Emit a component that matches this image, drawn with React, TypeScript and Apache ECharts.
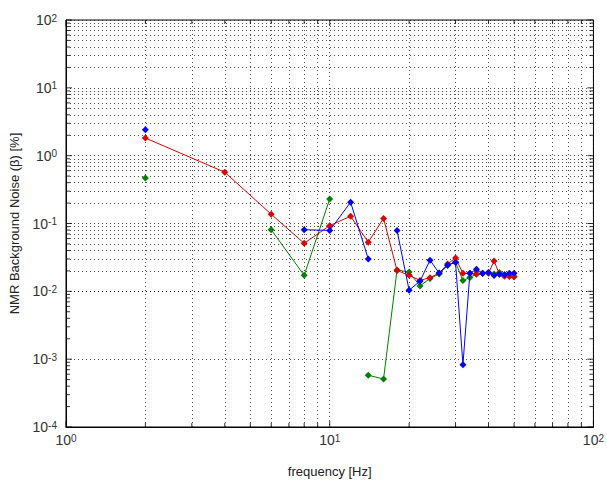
import React, { useEffect, useRef } from "react";
import * as echarts from "echarts";

const frequency = [2, 4, 6, 8, 10, 12, 14, 16, 18, 20, 22, 24, 26, 28, 30, 32, 34, 36, 38, 40, 42, 44, 46, 48, 50];

const redNoise = [1.82, 0.57, 0.137, 0.051, 0.093, 0.128, 0.053, 0.119, 0.0203, 0.0172, 0.0145, 0.0159, 0.0186, 0.0253, 0.031, 0.0184, 0.0184, 0.018, 0.0185, 0.0185, 0.028, 0.018, 0.0167, 0.0165, 0.0165];

const blueNoise = [2.42, null, null, 0.081, 0.079, 0.206, 0.03, null, 0.079, 0.0104, 0.0141, 0.0288, 0.0186, 0.0245, 0.0267, 0.00083, 0.0184, 0.0212, 0.0184, 0.019, 0.0171, 0.0178, 0.0175, 0.0184, 0.0184];

const greenNoise = [0.47, null, 0.081, 0.0172, 0.23, null, 0.00058, 0.00051, 0.0207, 0.0192, 0.012, 0.0155, 0.018, 0.024, 0.027, 0.0144, 0.016, 0.018, 0.0183, 0.019, 0.018, 0.019, 0.0175, 0.017, 0.0162];

const xDecades = [1, 10, 100];
const yDecades = [1e-4, 1e-3, 1e-2, 1e-1, 1, 10, 100];
const mantissas = [2, 3, 4, 5, 6, 7, 8, 9];

const xMinor = xDecades.slice(0, -1).flatMap((d) => mantissas.map((m) => m * d));
const yMinor = yDecades.slice(0, -1).flatMap((d) => mantissas.map((m) => m * d));

const X_MIN = 1, X_MAX = 100, Y_MIN = 1e-4, Y_MAX = 100;

const FONT = "Liberation Sans, Arial, sans-serif";

export default function App() {
  const ref = useRef<HTMLDivElement>(null);
  useEffect(() => {
    if (!ref.current) return;
    const chart = echarts.init(ref.current, undefined, { renderer: "svg" });

    const expFormatter = (v: number) => `{b|10}{s|${Math.round(Math.log10(v))}}`;
    const rich = {
      b: { fontSize: 14, fontFamily: FONT, color: "#333", verticalAlign: "bottom", lineHeight: 14 },
      s: { fontSize: 10, fontFamily: FONT, color: "#333", verticalAlign: "top", lineHeight: 10, padding: [0, 0, 10, 0] },
    };

    const gridLine = { color: "#000", width: 1, type: [1, 3] as any, opacity: 0.7 };

    const tickSeries = (pts: number[][], size: number[], offset: number[]) => ({
      type: "scatter",
      data: pts,
      symbol: "rect",
      symbolSize: size,
      symbolOffset: offset,
      itemStyle: { color: "#000" },
      silent: true,
      z: 4,
    });

    const option: any = {
      animation: false,
      backgroundColor: "#fff",
      grid: { left: 66, right: 11, top: 20, bottom: 47, show: true, borderColor: "#000", borderWidth: 1, containLabel: false },
      xAxis: {
        type: "log",
        logBase: 10,
        min: X_MIN,
        max: X_MAX,
        name: "frequency [Hz]",
        nameLocation: "middle",
        nameGap: 38,
        nameTextStyle: { fontSize: 13, fontFamily: FONT, color: "#222" },
        axisLine: { lineStyle: { color: "#000", width: 1 } },
        axisTick: { show: false },
        axisLabel: { formatter: expFormatter, rich, margin: 6 },
        splitLine: { show: true, lineStyle: gridLine },
      },
      yAxis: {
        type: "log",
        logBase: 10,
        min: Y_MIN,
        max: Y_MAX,
        splitNumber: 6,
        name: "NMR Background Noise (β) [%]",
        nameLocation: "middle",
        nameGap: 45,
        nameTextStyle: { fontSize: 13, fontFamily: FONT, color: "#222" },
        axisLine: { lineStyle: { color: "#000", width: 1 } },
        axisTick: { show: false },
        axisLabel: { formatter: expFormatter, rich, margin: 9 },
        splitLine: { show: true, lineStyle: gridLine },
      },
      series: [
        {
          type: "line",
          data: [[X_MIN, Y_MIN]],
          showSymbol: false,
          symbol: "none",
          lineStyle: { opacity: 0 },
          silent: true,
          z: 1,
          markLine: {
            silent: true,
            symbol: "none",
            label: { show: false },
            lineStyle: gridLine,
            data: [
              ...xMinor.map((v) => ({ xAxis: v })),
              ...yMinor.map((v) => ({ yAxis: v })),
            ],
          },
        },
        tickSeries(xMinor.map((v) => [v, Y_MIN]), [1, 4], [0, -2]),
        tickSeries(xMinor.map((v) => [v, Y_MAX]), [1, 4], [0, 2]),
        tickSeries(yMinor.map((v) => [X_MIN, v]), [4, 1], [2, 0]),
        tickSeries(yMinor.map((v) => [X_MAX, v]), [4, 1], [-2, 0]),
        tickSeries(xDecades.map((v) => [v, Y_MIN]), [1, 6], [0, -3]),
        tickSeries(xDecades.map((v) => [v, Y_MAX]), [1, 6], [0, 3]),
        tickSeries(yDecades.map((v) => [X_MIN, v]), [6, 1], [3, 0]),
        tickSeries(yDecades.map((v) => [X_MAX, v]), [6, 1], [-3, 0]),
        {
          name: "green",
          type: "line",
          data: frequency.map((f, i) => [f, greenNoise[i]]),
          connectNulls: false,
          symbol: "diamond",
          symbolSize: 7,
          showAllSymbol: true,
          color: "#008000",
          lineStyle: { width: 1, color: "#008000" },
          z: 5,
        },
        {
          name: "red",
          type: "line",
          data: frequency.map((f, i) => [f, redNoise[i]]),
          connectNulls: false,
          symbol: "diamond",
          symbolSize: 7,
          showAllSymbol: true,
          color: "#e00000",
          lineStyle: { width: 1, color: "#e00000" },
          z: 6,
        },
        {
          name: "blue",
          type: "line",
          data: frequency.map((f, i) => [f, blueNoise[i]]),
          connectNulls: false,
          symbol: "diamond",
          symbolSize: 7,
          showAllSymbol: true,
          color: "#0000ff",
          lineStyle: { width: 1, color: "#0000ff" },
          z: 7,
        },
      ],
    };
    chart.setOption(option);
    return () => chart.dispose();
  }, []);
  return (
    <div
      ref={ref}
      style={{ position: "fixed", left: 0, top: 0, width: 607, height: 483, background: "#fff" }}
    />
  );
}
